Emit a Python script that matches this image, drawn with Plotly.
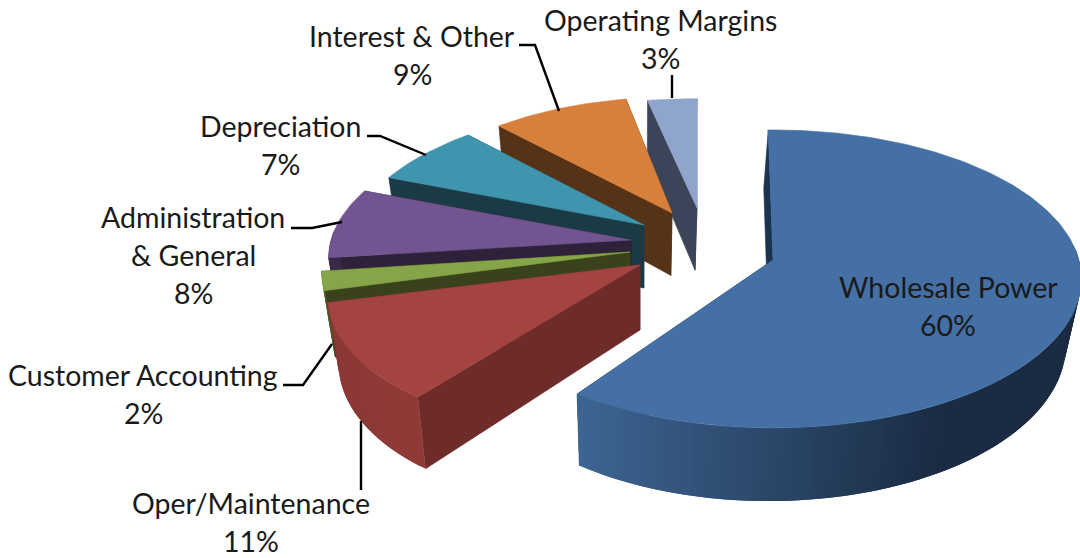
import math
import plotly.graph_objects as go

# ---- data (clockwise from 12 o'clock) ----
categories = ["Wholesale Power", "Oper/Maintenance", "Customer Accounting",
              "Administration & General", "Depreciation", "Interest & Other", "Operating Margins"]
shares = [60, 11, 2, 8, 7, 9, 3]

# ---- label text layout ----
label_lines = [["Wholesale Power"], ["Oper/Maintenance"], ["Customer Accounting"],
               ["Administration", "& General"], ["Depreciation"], ["Interest & Other"], ["Operating Margins"]]
label_x = [948, 251, 143, 193, 280, 412, 660]
label_y = [287, 503, 375, 217, 126, 36, 20]
LINE_H = 38

# ---- look ----
top_col = ["#4470a5", "#a44441", "#86a548", "#715590", "#3f95ae", "#d7803c", "#8fa5cc"]
face_col = ["#1a3350", "#6d2b2a", "#39421b", "#2e2139", "#1a3a46", "#563316", "#3b4458"]
rim_from = [(0x3d, 0x65, 0x93), (0x8a, 0x38, 0x36), (0x4a, 0x60, 0x28), (0x3a, 0x2a, 0x4a),
            (0x1a, 0x3a, 0x46), (0x56, 0x33, 0x16), (0x3b, 0x44, 0x58)]
rim_to = [(0x1a, 0x2b, 0x42), (0x8f, 0x3a, 0x37), (0x4a, 0x60, 0x28), (0x3a, 0x2a, 0x4a),
          (0x1a, 0x3a, 0x46), (0x56, 0x33, 0x16), (0x3b, 0x44, 0x58)]
apex_x = [773, 640, 630, 631, 644, 672, 697]
apex_y = [260, 265, 252, 240, 225, 213, 208]
scale_x = [1.03, 1.03, 1.03, 1.01, 0.98, 0.93, 1.00]
scale_y = [1.00, 1.00, 1.03, 0.95, 0.92, 0.89, 0.84]
skew = [0, -0.165, 0, 0, -0.07, 0, 0]
turn = [-1, 0, 0, 0, 0, 0, 0]
RX, RY, K = 297.0, 146.6, 0.127
CX = 640

leaders = [[(519, 45), (535, 45), (559, 111)],
           [(672, 75), (672, 98)],
           [(367, 136), (380, 136), (426, 155)],
           [(291, 228), (312, 228), (342, 222)],
           [(283, 385), (303, 385), (332, 344)],
           [(361, 490), (361, 421)]]


def surface(i, deg):
    a = math.radians(deg + turn[i])
    u, v = math.sin(a), math.cos(a)
    d = 1 + K * v
    dy = -RY * scale_y[i] * v / d
    dx = RX * scale_x[i] * u / d + skew[i] * dy
    return apex_x[i] + dx, apex_y[i] + dy, v


def drop(x, y):
    return x + (CX - x) * 0.035, y + 65 + (y - 265) * 0.05


def poly(fig, pts, color, w=0.6):
    fig.add_trace(go.Scatter(x=[p[0] for p in pts] + [pts[0][0]],
                             y=[p[1] for p in pts] + [pts[0][1]],
                             mode="lines", fill="toself", fillcolor=color,
                             line=dict(color=color, width=w),
                             hoverinfo="skip", showlegend=False))


def mix(c0, c1, t):
    t = max(0.0, min(1.0, t))
    return "rgb(%d,%d,%d)" % tuple(round(a + (b - a) * t) for a, b in zip(c0, c1))


fig = go.Figure()
total = sum(shares)
starts, acc = [], 0
for s in shares:
    starts.append(acc)
    acc += s

# painter's order: back slices first
for i in [6, 5, 4, 3, 2, 1, 0]:
    a0 = starts[i] / total * 360
    a1 = (starts[i] + shares[i]) / total * 360
    n = max(6, int((a1 - a0) / 1.2))
    degs = [a0 + (a1 - a0) * j / n for j in range(n + 1)]
    arc = [surface(i, d) for d in degs]
    apex = (apex_x[i], apex_y[i])
    for end in (arc[0], arc[-1]):
        poly(fig, [apex, end[:2], drop(*end[:2]), drop(*apex)], face_col[i])
    xs = [p[0] for p in arc]
    lo, hi = min(xs), max(xs)
    # rim drawn right-to-left so that every quad overlaps its neighbour (no seams)
    segs = [(arc[j], arc[j + 1]) for j in range(n)]
    segs.sort(key=lambda s: -s[0][0])
    for p, q in segs:
        if p[2] < 0.1 and q[2] < 0.1:
            t = ((p[0] + q[0]) / 2 - lo) / (hi - lo)
            left, right = (p, q) if p[0] < q[0] else (q, p)
            far = arc[max(0, min(n, arc.index(left) + (1 if arc.index(left) > arc.index(right) else -1)))]
            poly(fig, [far[:2], right[:2], drop(*right[:2]), drop(*far[:2])],
                 mix(rim_from[i], rim_to[i], min(1, t * 1.35)), w=0)
    poly(fig, [apex] + [p[:2] for p in arc], top_col[i])

for path in leaders:
    fig.add_trace(go.Scatter(x=[p[0] for p in path], y=[p[1] for p in path], mode="lines",
                             line=dict(color="#000000", width=2.4), hoverinfo="skip", showlegend=False))

annotations = []
for lines, s, x, y in zip(label_lines, shares, label_x, label_y):
    for k, t in enumerate(lines + [f"{s}%"]):
        annotations.append(dict(x=x, y=y + k * LINE_H, text=t, showarrow=False, xanchor="center",
                                yanchor="middle", font=dict(family="Lato", size=28.5, color="#1a1a1a")))

fig.update_layout(width=1080, height=558, margin=dict(l=0, r=0, t=0, b=0),
                  paper_bgcolor="white", plot_bgcolor="white", annotations=annotations,
                  xaxis=dict(range=[0, 1080], visible=False, fixedrange=True),
                  yaxis=dict(range=[558, 0], visible=False, fixedrange=True))
fig.write_html("out.html", config=dict(displayModeBar=False),
               post_script="document.body.style.margin='0';document.body.style.overflow='hidden';")
